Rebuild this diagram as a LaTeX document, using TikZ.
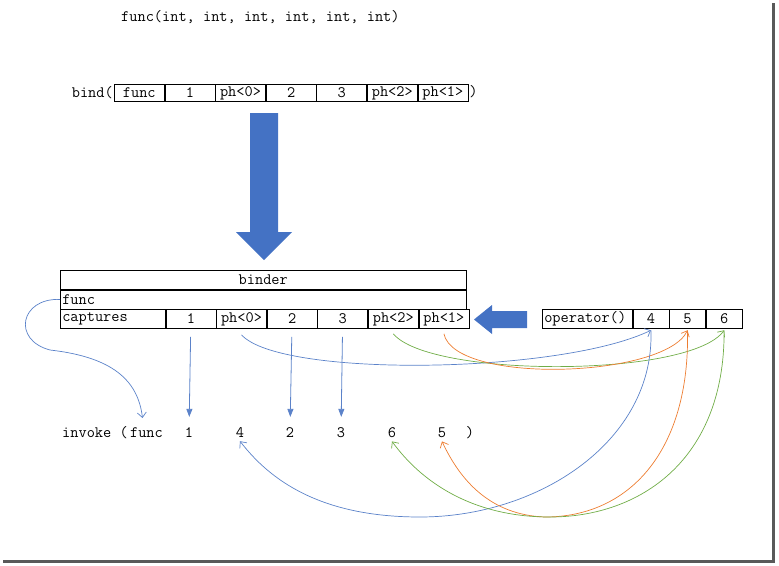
\documentclass[tikz,border=0pt]{standalone}
\usepackage{fontspec}
\usetikzlibrary{arrows.meta,positioning}

\definecolor{arrblue}{HTML}{4472C4}
\definecolor{lnblue}{HTML}{5B82C9}
\definecolor{lnorange}{HTML}{ED7D31}
\definecolor{lngreen}{HTML}{70AD47}
\newcommand\diagfont{\fontsize{15.9}{18}\selectfont\ttfamily}

\begin{document}
\begin{tikzpicture}[
  x=1pt, y=-1pt,
  txt/.style={inner sep=1pt, font=\diagfont},
  cell/.style={rectangle, draw=black, line width=0.6pt, inner sep=0pt,
               minimum width=50pt, minimum height=17pt, font=\diagfont},
  lcell/.style={cell, align=left, inner xsep=2pt},
  down/.style={-{Triangle[length=8pt,width=6pt]}, lnblue, line width=0.8pt,
               shorten <=8pt, shorten >=9pt},
  link/.style={-{Straight Barb[length=5pt,width=9pt]}, line width=0.7pt}
]
\useasboundingbox (0,0) rectangle (779,565);
% frame shadow
\fill[black!65] (772,3) rectangle (775,563);
\fill[black!65] (3,560) rectangle (775,563);

% signature
\node[txt, anchor=west] (sig) at (120,17) {func(int, int, int, int, int, int)};

% bind( ... )
\node[cell, anchor=west] (bfunc) at (114,93) {func};
\node[txt, anchor=base east] (bind) at (bfunc.base west) {bind(};
\node[cell, right=0pt of bfunc] (b1) {1};
\node[cell, right=0pt of b1] (bph0) {ph<0>};
\node[cell, right=0pt of bph0] (b2) {2};
\node[cell, right=0pt of b2] (b3) {3};
\node[cell, right=0pt of b3] (bph2) {ph<2>};
\node[cell, right=0pt of bph2] (bph1) {ph<1>};
\node[txt, anchor=base west] (bclose) at (bph1.base east) {)};

% big arrows
\fill[arrblue] (250,113) -- (278,113) -- (278,232) -- (292,232) -- (264,260)
  -- (236,232) -- (250,232) -- cycle;
\fill[arrblue] (527,311) -- (527,328) -- (492,328) -- (492,334) -- (474,319.5)
  -- (492,305) -- (492,311) -- cycle;

% binder
\node[cell, minimum width=406pt, minimum height=19pt, anchor=north west] (binder) at (60,270) {binder};
\node[lcell, text width=402pt, minimum height=19pt, below=0pt of binder] (bfn) {func};
\node[lcell, text width=101pt, minimum height=19pt, anchor=north west] (ccap) at (bfn.south west) {captures};
\node[cell, minimum height=19pt, right=0pt of ccap] (c1) {1};
\node[cell, minimum height=19pt, right=0pt of c1] (cph0) {ph<0>};
\node[cell, minimum height=19pt, right=0pt of cph0] (c2) {2};
\node[cell, minimum height=19pt, right=0pt of c2] (c3) {3};
\node[cell, minimum height=19pt, right=0pt of c3] (cph2) {ph<2>};
\node[cell, minimum height=19pt, right=0pt of cph2] (cph1) {ph<1>};

% operator()
\node[lcell, text width=86pt, minimum height=19pt, anchor=west] (op) at (542,318.5) {operator()};
\node[cell, minimum width=36pt, minimum height=19pt, right=0pt of op] (o4) {4};
\node[cell, minimum width=36pt, minimum height=19pt, right=0pt of o4] (o5) {5};
\node[cell, minimum width=36pt, minimum height=19pt, right=0pt of o5] (o6) {6};

% invoke
\node[txt, anchor=base west] (iinv) at (61,437) {invoke (};
\node[txt, anchor=base west] (ifunc) at (iinv.base east) {func};
\node[txt, anchor=base] (i1) at (189,437) {1};
\node[txt, anchor=base] (i4) at (240,437) {4};
\node[txt, anchor=base] (i2) at (290,437) {2};
\node[txt, anchor=base] (i3) at (341,437) {3};
\node[txt, anchor=base] (i6) at (392,437) {6};
\node[txt, anchor=base] (i5) at (442,437) {5};
\node[txt, anchor=base] (iclose) at (470,437) {)};

% straight moves
\draw[down] (c1) -- (i1);
\draw[down] (c2) -- (i2);
\draw[down] (c3) -- (i3);

% func
\draw[link, lnblue] (bfn.west) .. controls (20,298) and (12,340) .. (50,350)
  .. controls (112,357) and (138,380) .. ([xshift=-4pt,yshift=8pt]ifunc.north);

% placeholders to operator()
\draw[link, lnblue] ([yshift=-6pt]cph0.south) .. controls (280,378) and (560,374) .. ([yshift=-2pt]o4.south);
\draw[link, lngreen] ([yshift=-5pt]cph2.south) .. controls (430,378) and (690,378) .. ([yshift=-2pt]o6.south);
\draw[link, lnorange] ([yshift=-5pt]cph1.south) .. controls (455,385) and (665,378) .. ([yshift=-2pt]o5.south);

% operator() to invoke
\draw[link, lnblue] ([yshift=-2pt]o4.south) .. controls (655,440) and (540,517) .. (420,517)
  .. controls (320,517) and (270,480) .. ([yshift=-3pt]i4.south);
\draw[link, lnorange] ([yshift=-2pt]o5.south) .. controls (690,450) and (630,517) .. (545,517)
  .. controls (490,515) and (460,480) .. ([yshift=-3pt]i5.south);
\draw[link, lngreen] ([yshift=-2pt]o6.south) .. controls (725,460) and (640,517) .. (550,517)
  .. controls (470,517) and (420,480) .. ([yshift=-3pt]i6.south);
\end{tikzpicture}
\end{document}
